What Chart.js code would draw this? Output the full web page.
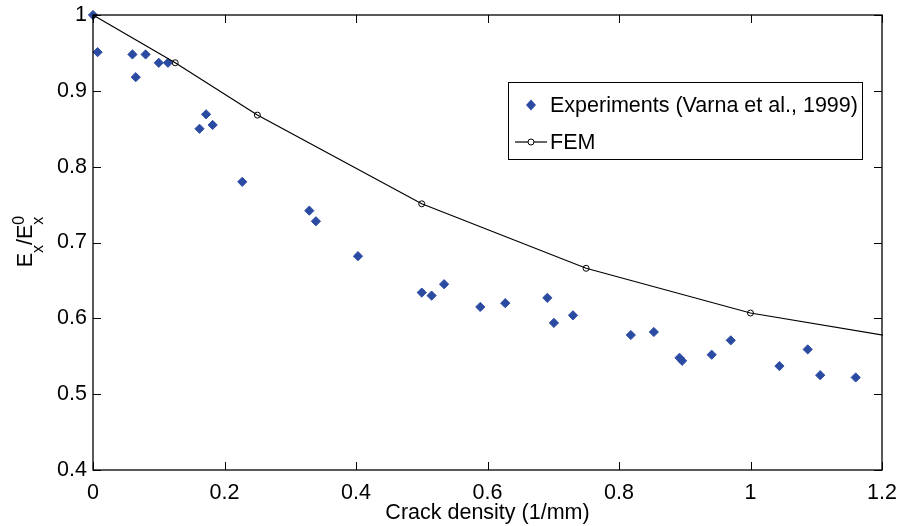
<!DOCTYPE html>
<html><head><meta charset="utf-8">
<script src="https://cdn.jsdelivr.net/npm/chart.js@4/dist/chart.umd.min.js"></script>
<style>html,body{margin:0;padding:0;background:#fff;}#wrap{width:899px;height:526px;position:relative;}</style>
</head><body><div id="wrap"><canvas id="c" width="899" height="526"></canvas></div>
<script>
// ---- data ----
const expX = [0, 0.007, 0.060, 0.065, 0.080, 0.100, 0.114, 0.162, 0.172, 0.182, 0.227, 0.329, 0.339, 0.403, 0.500, 0.515, 0.534, 0.589, 0.627, 0.691, 0.701, 0.730, 0.818, 0.853, 0.892, 0.896, 0.941, 0.970, 1.044, 1.087, 1.106, 1.160];
const expY = [1.000, 0.951, 0.948, 0.918, 0.948, 0.937, 0.937, 0.850, 0.869, 0.855, 0.780, 0.742, 0.728, 0.682, 0.634, 0.630, 0.645, 0.615, 0.620, 0.627, 0.594, 0.604, 0.578, 0.582, 0.548, 0.544, 0.552, 0.571, 0.537, 0.559, 0.525, 0.522];
const femX = [0, 0.125, 0.25, 0.5, 0.75, 1.0, 1.25];
const femY = [1.000, 0.937, 0.868, 0.751, 0.666, 0.607, 0.571];
const xTicks = [0, 0.2, 0.4, 0.6, 0.8, 1.0, 1.2];
const xTickLabels = ['0', '0.2', '0.4', '0.6', '0.8', '1', '1.2'];
const yTicks = [0.4, 0.5, 0.6, 0.7, 0.8, 0.9, 1.0];
const yTickLabels = ['0.4', '0.5', '0.6', '0.7', '0.8', '0.9', '1'];
const expLabel = 'Experiments (Varna et al., 1999)';
const femLabel = 'FEM';
const xTitle = 'Crack density (1/mm)';

// ---- styles ----
const FONT = 'Liberation Sans, Arial, Helvetica, sans-serif';
const FS = 21.5;
const BLUE = '#2b4ba3';

const framePlugin = {
  id: 'frame',
  afterDatasetsDraw(chart) {
    const {ctx, chartArea: a, scales} = chart;
    ctx.save();
    ctx.strokeStyle = '#000';
    ctx.lineWidth = 1.3;
    ctx.strokeRect(a.left, a.top, a.right - a.left, a.bottom - a.top);
    const tl = 8;
    ctx.lineWidth = 1;
    ctx.beginPath();
    xTicks.forEach(v => {
      const px = Math.round(scales.x.getPixelForValue(v)) + 0.5;
      ctx.moveTo(px, a.bottom); ctx.lineTo(px, a.bottom - tl);
      ctx.moveTo(px, a.top); ctx.lineTo(px, a.top + tl);
    });
    yTicks.forEach(v => {
      const py = Math.round(scales.y.getPixelForValue(v)) + 0.5;
      ctx.moveTo(a.left, py); ctx.lineTo(a.left + tl, py);
      ctx.moveTo(a.right, py); ctx.lineTo(a.right - tl, py);
    });
    ctx.stroke();
    ctx.restore();
  },
  afterDraw(chart) {
    const {ctx, chartArea: a} = chart;
    const ds = chart.data.datasets;
    // legend box
    const bw = 354, bh = 77;
    const bx = a.right - 20 - bw, by = a.top + 67;
    ctx.save();
    ctx.fillStyle = '#fff';
    ctx.fillRect(bx, by, bw, bh);
    ctx.strokeStyle = '#000';
    ctx.lineWidth = 1;
    ctx.strokeRect(Math.round(bx) + 0.5, Math.round(by) + 0.5, bw, bh);
    ctx.font = FS + 'px ' + FONT;
    ctx.textBaseline = 'middle';
    ctx.textAlign = 'left';
    const r1 = by + 23, r2 = by + 60;
    const mx = bx + 23;
    // row 1: experiments diamond
    ctx.fillStyle = BLUE;
    ctx.beginPath();
    ctx.moveTo(mx - 5, r1); ctx.lineTo(mx, r1 - 5.5); ctx.lineTo(mx + 5, r1); ctx.lineTo(mx, r1 + 5.5); ctx.closePath();
    ctx.fill();
    ctx.fillStyle = '#000';
    ctx.fillText(ds[1].label, bx + 42, r1 + 1);
    // row 2: FEM line + circle
    ctx.strokeStyle = '#000'; ctx.lineWidth = 1.2;
    ctx.beginPath(); ctx.moveTo(bx + 7, r2); ctx.lineTo(bx + 39, r2); ctx.stroke();
    ctx.lineWidth = 1;
    ctx.beginPath(); ctx.arc(mx, r2, 3, 0, Math.PI * 2); ctx.fillStyle = '#fff'; ctx.fill(); ctx.stroke();
    ctx.fillStyle = '#000';
    ctx.fillText(ds[0].label, bx + 42, r2 + 1);
    ctx.restore();

    // y axis title E_x / E_x^0 (rotated)
    ctx.save();
    const cx = 32, cy = 242;
    ctx.translate(cx, cy);
    ctx.rotate(-Math.PI / 2);
    ctx.fillStyle = '#000';
    ctx.textBaseline = 'alphabetic';
    ctx.textAlign = 'left';
    const big = FS + 'px ' + FONT, small = '16px ' + FONT;
    const parts = [
      {t: 'E', f: big, dy: 0},
      {t: 'x', f: small, dy: 11},
      {t: '/', f: big, dy: 0},
      {t: 'E', f: big, dy: 0},
      {t: 'x', f: small, dy: 11, stack: '0'}
    ];
    let total = 0;
    parts.forEach(p => { ctx.font = p.f; p.w = ctx.measureText(p.t).width; total += p.w; });
    let x = -total / 2;
    parts.forEach(p => {
      ctx.font = p.f;
      ctx.fillText(p.t, x, p.dy);
      if (p.stack) ctx.fillText(p.stack, x, -8);
      x += p.w;
    });
    ctx.restore();
  }
};

new Chart(document.getElementById('c'), {
  type: 'scatter',
  data: {
    datasets: [
      {
        label: femLabel,
        type: 'line',
        data: femX.map((x, i) => ({x: x, y: femY[i]})),
        borderColor: '#000',
        borderWidth: 1.2,
        pointRadius: 3,
        pointBorderWidth: 1,
        pointBorderColor: '#000',
        pointBackgroundColor: 'rgba(0,0,0,0)',
        fill: false,
        tension: 0,
        order: 0,
        clip: 1
      },
      {
        label: expLabel,
        data: expX.map((x, i) => ({x: x, y: expY[i]})),
        pointStyle: 'rectRot',
        pointRadius: 4.6,
        borderWidth: 1,
        backgroundColor: BLUE,
        borderColor: BLUE,
        showLine: false,
        order: 1,
        clip: false
      }
    ]
  },
  options: {
    responsive: false,
    animation: false,
    devicePixelRatio: 1,
    layout: {padding: {left: 0, right: 17, top: 15, bottom: 0}},
    plugins: {legend: {display: false}, tooltip: {enabled: false}},
    scales: {
      x: {
        type: 'linear', min: 0, max: 1.2,
        afterBuildTicks: s => { s.ticks = xTicks.map(v => ({value: v})); },
        afterFit: s => { s.height = 56; s.paddingLeft = 0; s.paddingRight = 0; },
        grid: {display: false, drawTicks: false},
        border: {display: false},
        ticks: {
          callback: v => xTickLabels[xTicks.findIndex(t => Math.abs(t - v) < 1e-9)],
          font: {family: FONT, size: FS}, color: '#000', padding: 10,
          maxRotation: 0, autoSkip: false
        },
        title: {display: true, text: xTitle, font: {family: FONT, size: FS}, color: '#000', padding: {top: 0, bottom: 0}}
      },
      y: {
        type: 'linear', min: 0.4, max: 1.0,
        afterBuildTicks: s => { s.ticks = yTicks.map(v => ({value: v})); },
        afterFit: s => { s.width = 93; s.paddingTop = 0; s.paddingBottom = 0; },
        grid: {display: false, drawTicks: false},
        border: {display: false},
        ticks: {
          callback: v => yTickLabels[yTicks.findIndex(t => Math.abs(t - v) < 1e-9)],
          font: {family: FONT, size: FS}, color: '#000', padding: 6,
          autoSkip: false
        }
      }
    }
  },
  plugins: [framePlugin]
});
</script>
</body></html>
